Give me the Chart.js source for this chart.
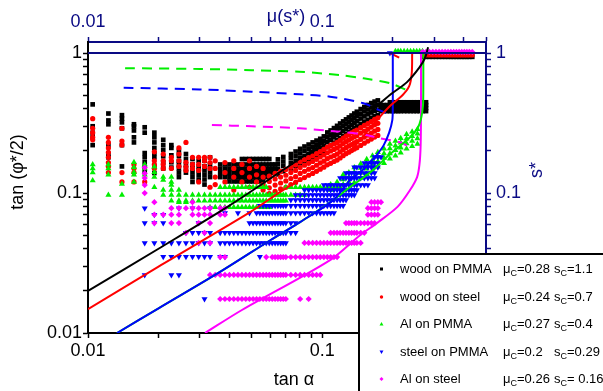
<!DOCTYPE html>
<html lang="en">
<head>
  <meta charset="UTF-8">
  <title>tan(phi*/2) vs tan alpha</title>
  <script src="https://cdn.jsdelivr.net/npm/chart.js"></script>
  <style>
    body { margin: 0; background: #fff; }
    #wrap { width: 603px; height: 391px; }
  </style>
</head>
<body>
  <div id="wrap"><canvas id="chart" width="603" height="391"></canvas></div>

  <script>
    // measured tilt angles (tan alpha), 0.6 deg .. 23.6 deg
    const alphaTan = [0.01047,0.01222,0.01396,0.01571,0.01746,0.0192,0.02095,0.02269,0.02444,0.02619,0.02793,0.02968,0.03143,0.03318,
      0.03492,0.03667,0.03842,0.04016,0.04191,0.04366,0.04541,0.04716,0.04891,0.05066,0.05241,0.05416,0.05591,0.05766,0.05941,
      0.06116,0.06291,0.06467,0.06642,0.06817,0.06993,0.07344,0.07695,0.08046,0.08397,0.08749,0.09101,0.09453,0.09805,0.1016,
      0.1051,0.1086,0.1122,0.1157,0.1192,0.1228,0.1263,0.1299,0.1334,0.137,0.1405,0.1459,0.1512,0.1566,0.162,0.1673,0.1727,
      0.1781,0.1835,0.189,0.1944,0.1998,0.2053,0.2107,0.2162,0.2235,0.2309,0.2382,0.2456,0.253,0.2605,0.2679,0.2773,0.2867,
      0.2962,0.3057,0.3153,0.3249,0.3346,0.3443,0.3541,0.364,0.3739,0.3839,0.3939,0.404,0.4142,0.4245,0.4369];

    // columns: [tan alpha, [tan(phi*/2) ...]]   rows: [tan(phi*/2), from tan alpha, to tan alpha]
    const blackCols = [
      [0.01047,[0.43,0.30,0.27,0.25,0.22]], [0.01222,[0.37,0.33,0.31,0.22,0.19,0.18]],
      [0.01396,[0.36,0.34,0.32,0.29,0.22,0.155]], [0.01571,[0.31,0.30,0.28,0.25,0.23]],
      [0.01746,[0.295,0.27,0.193,0.18,0.166,0.154,0.141]], [0.0192,[0.27,0.25,0.23,0.21,0.193,0.18,0.154,0.139]],
      [0.02095,[0.24,0.22,0.203,0.183,0.166,0.15]], [0.02269,[0.22,0.21,0.186,0.166,0.152]],
      [0.02444,[0.2,0.185,0.17,0.16,0.15,0.14,0.13]], [0.02619,[0.19,0.175,0.16,0.15,0.14]],
      [0.02793,[0.175,0.16,0.15,0.14,0.13,0.12]], [0.02968,[0.17,0.155,0.145,0.135,0.125]],
      [0.03143,[0.17,0.155,0.145,0.135,0.125,0.115]], [0.03318,[0.18,0.16,0.15,0.14,0.13]],
      [0.06467,[0.136,0.149,0.161,0.174]], [0.06817,[0.143,0.156,0.168,0.181]],
      [0.07344,[0.150,0.163,0.177,0.190]], [0.07695,[0.156,0.170,0.184,0.198]],
      [0.08046,[0.163,0.178,0.192,0.207]], [0.08397,[0.169,0.184,0.200,0.215]],
      [0.08749,[0.174,0.190,0.206,0.222]], [0.09101,[0.18,0.197,0.213,0.23]],
      [0.09453,[0.187,0.204,0.22,0.237]], [0.09805,[0.192,0.209,0.227,0.244]],
      [0.1016,[0.2,0.218,0.236,0.254]], [0.1051,[0.213,0.232,0.252,0.271]],
      [0.1086,[0.220,0.240,0.260,0.280]], [0.1122,[0.229,0.25,0.27,0.291]],
      [0.1157,[0.238,0.259,0.281,0.302]], [0.1192,[0.246,0.269,0.291,0.314]],
      [0.1228,[0.255,0.278,0.302,0.325]], [0.1263,[0.264,0.288,0.312,0.336]],
      [0.1299,[0.273,0.298,0.322,0.347]], [0.1334,[0.282,0.307,0.333,0.358]],
      [0.137,[0.290,0.317,0.343,0.370]], [0.1405,[0.299,0.326,0.354,0.381]],
      [0.1459,[0.312,0.341,0.369,0.398]], [0.1512,[0.324,0.353,0.383,0.412]],
      [0.1566,[0.334,0.365,0.395,0.426]], [0.162,[0.345,0.376,0.408,0.439]],
      [0.1673,[0.354,0.386,0.418,0.45]], [0.1727,[0.361,0.394,0.426,0.459]]
    ];
    const blackRows = [
      [0.175,0.045,0.06], [0.16,0.035,0.064], [0.149,0.035,0.064], [0.139,0.035,0.064],
      [0.13,0.036,0.06], [0.121,0.04,0.056],
      [0.385,0.175,0.285], [0.405,0.175,0.285], [0.425,0.175,0.285], [0.445,0.19,0.283],
      [0.94,0.2679,0.4369]
    ];

    const redCols = [
      [0.01047,[0.34,0.29,0.27,0.25,0.24]], [0.01222,[0.25,0.23,0.21,0.195,0.18,0.165,0.155,0.14]],
      [0.01396,[0.29,0.235,0.22,0.14,0.12]], [0.01571,[0.16,0.15,0.14,0.12]], [0.01746,[0.12]],
      [0.0192,[0.197,0.17,0.16,0.15]], [0.02095,[0.19,0.17,0.16,0.15]], [0.02269,[0.18,0.17,0.15]],
      [0.02444,[0.21,0.19,0.17,0.155]], [0.02619,[0.23,0.166,0.154,0.145]], [0.02793,[0.18,0.16,0.15]],
      [0.02968,[0.18,0.16,0.145,0.12]], [0.03143,[0.18,0.17,0.155]], [0.03318,[0.18,0.165,0.15,0.11]],
      [0.03492,[0.17,0.15,0.13,0.115]], [0.03842,[0.165,0.14,0.12]], [0.04191,[0.17,0.15,0.13,0.105]],
      [0.04541,[0.16,0.14,0.12]], [0.04891,[0.17,0.15,0.13,0.11]], [0.05241,[0.155,0.135,0.12]],
      [0.05591,[0.15,0.13,0.115,0.105]],
      [0.05941,[0.099,0.109,0.121,0.132]], [0.06291,[0.103,0.114,0.126,0.138]],
      [0.06642,[0.107,0.118,0.130,0.143]], [0.06993,[0.110,0.122,0.134,0.147]],
      [0.07344,[0.115,0.127,0.140,0.153]], [0.07695,[0.119,0.131,0.145,0.159]],
      [0.08046,[0.125,0.138,0.152,0.167]], [0.08397,[0.129,0.143,0.158,0.173]],
      [0.08749,[0.134,0.148,0.163,0.179]], [0.09101,[0.138,0.152,0.168,0.184]],
      [0.09453,[0.143,0.158,0.174,0.191]], [0.09805,[0.148,0.164,0.181,0.198]],
      [0.1016,[0.153,0.169,0.187,0.205]], [0.1051,[0.159,0.176,0.194,0.213]],
      [0.1086,[0.163,0.181,0.200,0.219]], [0.1122,[0.168,0.185,0.205,0.224]],
      [0.1157,[0.172,0.190,0.210,0.230]], [0.1192,[0.178,0.197,0.217,0.238]],
      [0.1228,[0.185,0.204,0.226,0.247]], [0.1263,[0.191,0.211,0.233,0.255]],
      [0.1299,[0.196,0.217,0.239,0.262]], [0.1334,[0.201,0.222,0.246,0.269]],
      [0.137,[0.206,0.228,0.252,0.276]], [0.1405,[0.211,0.233,0.257,0.282]],
      [0.1459,[0.219,0.242,0.268,0.293]], [0.1512,[0.227,0.251,0.277,0.304]],
      [0.1566,[0.235,0.259,0.287,0.314]], [0.162,[0.243,0.268,0.296,0.324]],
      [0.1673,[0.251,0.277,0.307,0.336]], [0.1727,[0.258,0.285,0.315,0.345]]
    ];
    const redRows = [[0.97,0.2679,0.4369]];

    const greenCols = [
      [0.01047,[0.16,0.15,0.14,0.123]], [0.01222,[0.16,0.15,0.135,0.097]], [0.01396,[0.116,0.097]],
      [0.01571,[0.166,0.153,0.141,0.135,0.12]], [0.01746,[0.16,0.15,0.135]], [0.0192,[0.154,0.141,0.13,0.11]],
      [0.02095,[0.13,0.124,0.105,0.097]], [0.02269,[0.13,0.12,0.114,0.105,0.097]],
      [0.02444,[0.105,0.086]], [0.02619,[0.086]],
      [0.1086,[0.105,0.115]], [0.1157,[0.11,0.12]], [0.1228,[0.115,0.125,0.135]], [0.1299,[0.12,0.13,0.14]],
      [0.137,[0.119,0.13,0.141,0.152]], [0.1459,[0.128,0.139,0.151,0.162]],
      [0.1548,[0.136,0.149,0.161,0.174]], [0.1638,[0.145,0.158,0.172,0.185]],
      [0.1727,[0.154,0.168,0.182,0.196]], [0.1835,[0.163,0.178,0.192,0.207]],
      [0.1944,[0.176,0.192,0.208,0.224]], [0.2053,[0.185,0.202,0.218,0.235]],
      [0.2162,[0.194,0.211,0.229,0.246]], [0.229,[0.207,0.226,0.244,0.263]],
      [0.2419,[0.216,0.235,0.255,0.274]], [0.2549,[0.224,0.245,0.265,0.286]]
    ];
    const greenRows = [
      [0.11,0.036,0.058], [0.11,0.07,0.12], [0.097,0.024,0.085], [0.088,0.022,0.07],
      [0.079,0.033,0.06], [1.03,0.2053,0.2679]
    ];

    const blueCols = [
      [0.01746,[0.078,0.061,0.044,0.026]], [0.0192,[0.07,0.061,0.044]], [0.02095,[0.07,0.061,0.044,0.035]],
      [0.02269,[0.044,0.035,0.026]], [0.02444,[0.078,0.044,0.035,0.026]], [0.02619,[0.052,0.044,0.035]],
      [0.02793,[0.078,0.052,0.044,0.035]], [0.02968,[0.061,0.052,0.044,0.035]],
      [0.03143,[0.052,0.044,0.035,0.0175]], [0.03318,[0.078,0.052,0.044,0.035]],
      [0.03842,[0.072]], [0.04366,[0.072]], [0.04891,[0.072]], [0.05416,[0.035]]
    ];
    const blueRows = [
      [0.181,0.163,0.18], [0.164,0.15,0.177], [0.153,0.137,0.175], [0.139,0.123,0.171],
      [0.128,0.116,0.171], [0.114,0.1,0.16], [0.105,0.083,0.145], [0.097,0.077,0.14],
      [0.089,0.073,0.128], [0.081,0.054,0.123], [0.072,0.052,0.113], [0.061,0.048,0.08],
      [0.052,0.035,0.08], [0.044,0.035,0.073], [0.035,0.035,0.04], [1.0,0.1944,0.1944]
    ];

    const magentaCols = [
      [0.01746,[0.152,0.138,0.128,0.114,0.1]], [0.0192,[0.086,0.07,0.061]], [0.02095,[0.07]],
      [0.02269,[0.078,0.07,0.061]], [0.02444,[0.078,0.07,0.061]], [0.02619,[0.078,0.052]],
      [0.02793,[0.086,0.078,0.07]], [0.02968,[0.078,0.07,0.061,0.044]], [0.03143,[0.078,0.07,0.052]],
      [0.03318,[0.078,0.07,0.061,0.044]], [0.08046,[0.0175]], [0.08749,[0.0175]]
    ];
    const magentaRows = [
      [0.078,0.035,0.04], [0.07,0.035,0.04], [0.0175,0.0366,0.073], [0.026,0.0332,0.098],
      [0.0349,0.0366,0.039], [0.0349,0.056,0.059], [0.0349,0.061,0.117], [0.044,0.083,0.15],
      [0.052,0.106,0.155], [0.061,0.125,0.171], [0.07,0.153,0.177], [0.078,0.155,0.175],
      [0.086,0.16,0.18], [1.02,0.2679,0.4369]
    ];

    // model curves tan(phi*/2) vs tan alpha
    const blackCurve = [[0.01,0.02],[0.02,0.04],[0.04,0.081],[0.068,0.146],[0.1,0.225],[0.131,0.296],[0.16,0.38],
      [0.18,0.45],[0.2,0.52],[0.23,0.62],[0.26,0.79],[0.275,0.93],[0.283,1.1]];
    const redCurve = [[0.01,0.0148],[0.02,0.0298],[0.0492,0.073],[0.068,0.105],[0.095,0.146],[0.131,0.2],
      [0.165,0.31],[0.195,0.42],[0.22,0.5],[0.235,0.58],[0.241,0.72],[0.242,1.0]];
    const greenCurve = [[0.0133,0.01],[0.02,0.015],[0.0366,0.0273],[0.06,0.046],[0.0804,0.062],[0.108,0.086],
      [0.131,0.11],[0.16,0.14],[0.195,0.19],[0.237,0.25],[0.255,0.29],[0.264,0.34],[0.269,0.42],[0.27,0.55],[0.27,1.0]];
    const blueCurve = [[0.0133,0.01],[0.02,0.015],[0.0366,0.0273],[0.06,0.046],[0.0804,0.062],[0.1114,0.089],
      [0.131,0.123],[0.15,0.148],[0.16,0.166],[0.172,0.19],[0.183,0.22],[0.193,0.27],[0.199,0.33],[0.2,0.4],[0.2,1.0]];
    const magentaCurve = [[0.0316,0.01],[0.0454,0.0146],[0.108,0.0332],[0.145,0.05],[0.171,0.061],[0.21,0.08],
      [0.237,0.105],[0.254,0.13],[0.26,0.16],[0.263,0.22],[0.264,0.4],[0.264,1.0]];

    // mu(s*) vs s* (top / right axes)
    const greenDash = [[0.0144,0.78],[0.03,0.77],[0.05,0.755],[0.08,0.735],[0.119,0.697],[0.15,0.66],[0.195,0.608],[0.237,0.53]];
    const blueDash = [[0.0142,0.565],[0.03,0.55],[0.05,0.53],[0.08,0.507],[0.108,0.488],[0.15,0.438],[0.174,0.393],[0.198,0.36]];
    const magentaDash = [[0.0338,0.306],[0.05,0.3],[0.08,0.29],[0.119,0.274],[0.15,0.262],[0.177,0.246],[0.222,0.226],[0.24,0.203]];
    const redDash = [[0.195,1.0],[0.215,0.92]];
    const unityLine = [[0.01,1],[0.5,1]];

    const seriesNames = ['wood on PMMA', 'wood on steel', 'Al on PMMA', 'steel on PMMA', 'Al on steel'];
    const muC = ['0.28', '0.24', '0.27', '0.2', '0.26'];
    const sC = ['1.1', '0.7', '0.4', '0.29', ' 0.16'];

    const NAVY = '#0a0a84';
    const FONT = '"Liberation Sans", Arial, sans-serif';
    const COLORS = ['#000000', '#ff0000', '#00ee00', '#0000ff', '#ff00ff'];

    function buildPoints(cols, rows) {
      const pts = [];
      cols.forEach(([x, ys]) => ys.forEach(y => pts.push({ x: x, y: y })));
      rows.forEach(([y, x0, x1]) => {
        alphaTan.forEach(x => { if (x >= x0 * 0.999 && x <= x1 * 1.001) pts.push({ x: x, y: y }); });
      });
      return pts;
    }
    const toXY = arr => arr.map(p => ({ x: p[0], y: p[1] }));

    function scatterSet(pts, color, style, radius, rot, order) {
      return { data: pts, showLine: false, pointStyle: style, pointRadius: radius, pointRotation: rot || 0,
        pointBackgroundColor: color, pointBorderColor: color, pointBorderWidth: 0, order: order };
    }
    function lineSet(arr, color, dash, order) {
      return { data: toXY(arr), showLine: true, pointRadius: 0, borderColor: color, borderWidth: 2,
        borderDash: dash || [], tension: 0.3, order: order };
    }

    // equal order: earlier datasets are painted on top
    const datasets = [
      lineSet(unityLine, NAVY, null, 0),
      lineSet(blackCurve, COLORS[0], null, 0),
      lineSet(redCurve, COLORS[1], null, 0),
      lineSet(blueCurve, COLORS[3], null, 0),
      lineSet(greenCurve, COLORS[2], null, 0),
      lineSet(magentaCurve, COLORS[4], null, 0),
      lineSet(greenDash, COLORS[2], [10, 7], 0),
      lineSet(blueDash, COLORS[3], [10, 7], 0),
      lineSet(magentaDash, COLORS[4], [10, 7], 0),
      lineSet(redDash, COLORS[1], [10, 7], 0),
      scatterSet(buildPoints(magentaCols, magentaRows), COLORS[4], 'rectRot', 3.1, 0, 1),
      scatterSet(buildPoints(blueCols, blueRows), COLORS[3], 'triangle', 3.5, 180, 2),
      scatterSet(buildPoints(greenCols, greenRows), COLORS[2], 'triangle', 3.5, 0, 3),
      scatterSet(buildPoints(redCols, redRows), COLORS[1], 'circle', 2.6, 0, 4),
      scatterSet(buildPoints(blackCols, blackRows), COLORS[0], 'rect', 3.3, 0, 5)
    ];

    function keepLogTicks(scale) {
      scale.ticks = scale.ticks.filter(t => {
        const m = t.value / Math.pow(10, Math.floor(Math.log10(t.value) + 1e-9));
        return Math.abs(m - Math.round(m)) < 1e-6;
      });
    }
    function decadeLabel(v) {
      const l = Math.log10(v);
      return Math.abs(l - Math.round(l)) < 1e-6 ? String(Number(v.toPrecision(1))) : '';
    }
    function axis(pos, color, size, extra) {
      return Object.assign({
        type: 'logarithmic', position: pos,
        border: { color: color, width: 2 },
        grid: { drawOnChartArea: false, color: color, tickLength: 5, tickWidth: 1.5 },
        afterBuildTicks: keepLogTicks,
        afterFit: s => { if (pos === 'left' || pos === 'right') s.width = size; else s.height = size; }
      }, extra);
    }
    const tickFont = { family: FONT, size: 18 };

    const textPlugin = {
      id: 'texts',
      afterDraw(chart) {
        const ctx = chart.ctx;
        ctx.save();
        ctx.font = '18px ' + FONT;
        ctx.textAlign = 'center';
        ctx.textBaseline = 'middle';
        ctx.fillStyle = '#000';
        ctx.fillText('tan \u03b1', 294, 380);
        ctx.save(); ctx.translate(18, 172); ctx.rotate(-Math.PI / 2);
        ctx.fillText('tan (\u03c6*/2)', 0, 0); ctx.restore();
        ctx.fillStyle = NAVY;
        ctx.fillText('\u03bc(s*)', 286, 17);
        ctx.save(); ctx.translate(537, 170); ctx.rotate(-Math.PI / 2);
        ctx.fillText('s*', 0, 0); ctx.restore();

        // legend box
        ctx.fillStyle = '#fff';
        ctx.fillRect(358, 253, 260, 150);
        ctx.strokeStyle = '#000';
        ctx.lineWidth = 2;
        ctx.strokeRect(359, 254, 260, 150);
        const rowsY = [269, 297, 324, 352, 379];
        ctx.textAlign = 'left';
        rowsY.forEach((y, i) => {
          ctx.fillStyle = COLORS[i];
          ctx.beginPath();
          if (i === 0) ctx.rect(380, y - 1.5, 3, 3);
          else if (i === 1) ctx.arc(381.5, y, 1.7, 0, Math.PI * 2);
          else if (i === 2) { ctx.moveTo(381.5, y - 2); ctx.lineTo(383.5, y + 1.5); ctx.lineTo(379.5, y + 1.5); }
          else if (i === 3) { ctx.moveTo(381.5, y + 2); ctx.lineTo(383.5, y - 1.5); ctx.lineTo(379.5, y - 1.5); }
          else { ctx.moveTo(381.5, y - 2); ctx.lineTo(383.5, y); ctx.lineTo(381.5, y + 2); ctx.lineTo(379.5, y); }
          ctx.fill();
          ctx.fillStyle = '#000';
          ctx.font = '13px ' + FONT;
          ctx.fillText(seriesNames[i], 400, y);
          drawSub(ctx, '\u03bc', 'C', '=' + muC[i], 503, y);
          drawSub(ctx, 's', 'C', '=' + sC[i], 554, y);
        });
        ctx.restore();
      }
    };
    function drawSub(ctx, base, sub, rest, x, y) {
      ctx.font = '13px ' + FONT;
      ctx.fillText(base, x, y);
      x += ctx.measureText(base).width;
      ctx.font = '9px ' + FONT;
      ctx.fillText(sub, x, y + 5);
      x += ctx.measureText(sub).width;
      ctx.font = '13px ' + FONT;
      ctx.fillText(rest, x, y);
    }

    new Chart(document.getElementById('chart'), {
      type: 'scatter',
      data: { datasets: datasets },
      options: {
        responsive: false,
        animation: false,
        devicePixelRatio: 1,
        layout: { padding: 0 },
        plugins: { legend: { display: false }, tooltip: { enabled: false } },
        scales: {
          x: axis('bottom', '#000', 58, { min: 0.01, max: 0.5, ticks: { color: '#000', font: tickFont, autoSkip: false, maxRotation: 0, padding: 2, callback: decadeLabel } }),
          x2: axis('top', NAVY, 42, { min: 0.01, max: 0.5, ticks: { color: NAVY, font: tickFont, autoSkip: false, maxRotation: 0, padding: 4, callback: decadeLabel } }),
          y: axis('left', '#000', 88, { min: 0.01, max: 1.2, ticks: { color: '#000', font: tickFont, autoSkip: false, padding: 1, callback: decadeLabel } }),
          y2: axis('right', NAVY, 117, { min: 0.01, max: 1.2, ticks: { color: NAVY, font: tickFont, autoSkip: false, padding: 5, callback: decadeLabel } })
        }
      },
      plugins: [textPlugin]
    });
  </script>
</body>
</html>
